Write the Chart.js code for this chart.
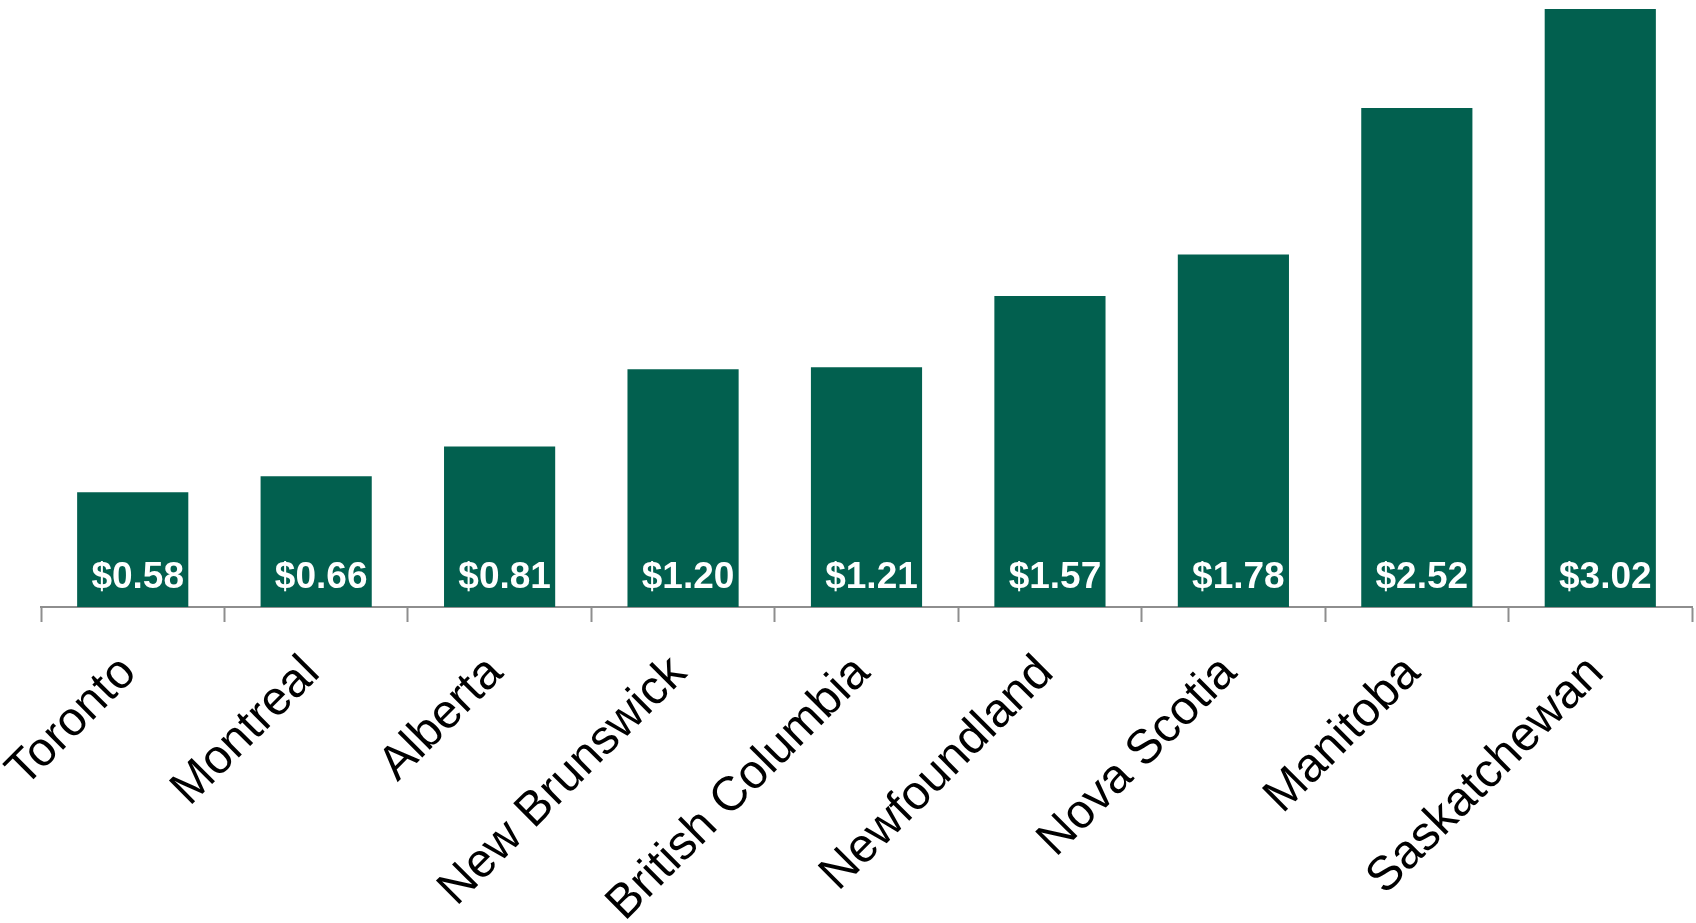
<!DOCTYPE html>
<html>
<head>
<meta charset="utf-8">
<script src="https://cdn.jsdelivr.net/npm/chart.js@4"></script>
<style>
  html, body { margin: 0; padding: 0; background: #fff; }
  #wrap { width: 1696px; height: 923px; position: relative; }
</style>
</head>
<body>
<div id="wrap"><canvas id="barChartCost"></canvas></div>
<script>
'use strict';

var regions = ["Toronto", "Montreal", "Alberta", "New Brunswick", "British Columbia",
               "Newfoundland", "Nova Scotia", "Manitoba", "Saskatchewan"];
var costs = [0.58, 0.66, 0.81, 1.20, 1.21, 1.57, 1.78, 2.52, 3.02];

var barGreen = 'rgb(2, 96, 79)';
var axisGrey = '#8e8e8e';

// white value labels sitting near the bottom of each bar
var valueLabels = {
    id: 'valueLabels',
    afterDatasetsDraw: function (chart) {
        var ctx = chart.ctx;
        var meta = chart.getDatasetMeta(0);
        ctx.save();
        ctx.font = 'bold 37px "Liberation Sans", Arial, sans-serif';
        ctx.fillStyle = '#ffffff';
        ctx.textAlign = 'center';
        ctx.textBaseline = 'alphabetic';
        meta.data.forEach(function (bar, i) {
            ctx.fillText('$' + costs[i].toFixed(2), bar.x + 5, bar.base - 19);
        });
        ctx.restore();
    }
};

var BARCHART = document.getElementById('barChartCost');

var barChart = new Chart(BARCHART, {
    type: 'bar',
    data: {
        labels: regions,
        datasets: [{
            label: 'Cost',
            data: costs,
            backgroundColor: barGreen,
            borderWidth: 0,
            categoryPercentage: 1.0,
            barPercentage: 0.606
        }]
    },
    options: {
        responsive: true,
        maintainAspectRatio: false,
        animation: false,
        layout: { padding: { left: 41, right: 4, top: 1, bottom: 0 } },
        plugins: {
            legend: { display: false },
            tooltip: { enabled: false }
        },
        scales: {
            x: {
                afterFit: function (scale) {
                    scale.height = 316;
                    scale.paddingLeft = 0;
                    scale.paddingRight = 0;
                },
                grid: {
                    display: true,
                    drawOnChartArea: false,
                    drawTicks: true,
                    tickLength: 15,
                    tickWidth: 2,
                    tickColor: axisGrey,
                    offset: true
                },
                border: { display: true, color: axisGrey, width: 2 },
                ticks: {
                    minRotation: 45,
                    maxRotation: 45,
                    padding: 23,
                    labelOffset: -4,
                    color: '#000',
                    font: { family: '"Liberation Sans", Arial, sans-serif', size: 48 }
                }
            },
            y: {
                display: false,
                min: 0,
                max: 3.06
            }
        }
    },
    plugins: [valueLabels]
});
</script>
</body>
</html>
